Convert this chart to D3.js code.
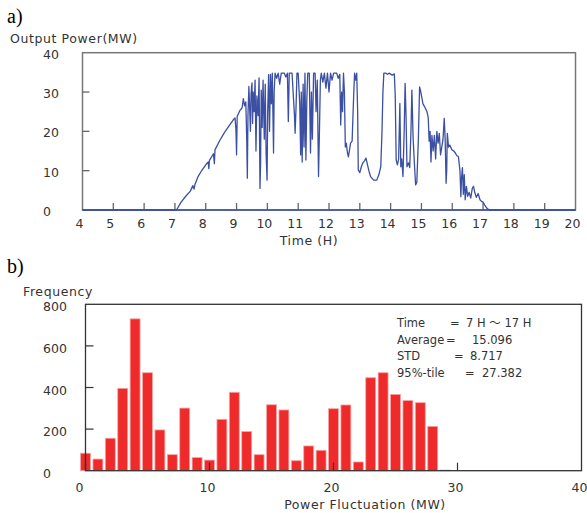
<!DOCTYPE html>
<html>
<head>
<meta charset="utf-8">
<script src="https://cdn.jsdelivr.net/npm/d3@7/dist/d3.min.js"></script>
<style>
  body { margin: 0; background: #fff; }
  text { font-family: "DejaVu Sans", sans-serif; fill: #333; }
  .panel-tag { font-family: "Liberation Serif", serif; font-size: 20px; fill: #000; }
  .title { letter-spacing: 0.6px; }
</style>
</head>
<body>
<div id="chart"></div>
<script>
// panel a) output power over the day (hour, MW)
var power_hours = [4, 7.05, 7.2, 7.35, 7.5, 7.58, 7.62, 7.65, 7.75, 7.85, 8.0, 8.08, 8.1, 8.12, 8.25, 8.28, 8.3, 8.45, 8.6, 8.75, 8.9, 8.95, 8.98, 9.0, 9.02, 9.1, 9.18, 9.22, 9.26, 9.3, 9.33, 9.35, 9.37, 9.4, 9.42, 9.45, 9.47, 9.5, 9.52, 9.54, 9.57, 9.6, 9.63, 9.66, 9.7, 9.73, 9.76, 9.78, 9.8, 9.83, 9.86, 9.9, 9.93, 9.96, 9.99, 10.01, 10.04, 10.07, 10.1, 10.13, 10.16, 10.2, 10.22, 10.25, 10.3, 10.35, 10.4, 10.45, 10.55, 10.6, 10.65, 10.68, 10.71, 10.8, 10.85, 10.88, 10.9, 10.93, 10.96, 11.0, 11.05, 11.08, 11.1, 11.13, 11.16, 11.19, 11.22, 11.25, 11.28, 11.31, 11.36, 11.4, 11.43, 11.46, 11.5, 11.55, 11.58, 11.62, 11.66, 11.69, 11.72, 11.75, 11.8, 11.85, 11.9, 11.95, 12.0, 12.05, 12.1, 12.15, 12.25, 12.3, 12.35, 12.38, 12.41, 12.44, 12.47, 12.5, 12.53, 12.56, 12.6, 12.63, 12.66, 12.7, 12.75, 12.8, 12.83, 12.87, 12.9, 12.93, 12.95, 13.0, 13.05, 13.1, 13.15, 13.2, 13.25, 13.3, 13.35, 13.45, 13.55, 13.62, 13.68, 13.72, 13.75, 13.78, 13.85, 13.9, 13.95, 14.05, 14.12, 14.15, 14.18, 14.22, 14.26, 14.3, 14.33, 14.36, 14.4, 14.44, 14.47, 14.5, 14.53, 14.58, 14.62, 14.66, 14.69, 14.73, 14.77, 14.81, 14.85, 14.9, 14.94, 14.98, 15.05, 15.1, 15.18, 15.22, 15.25, 15.28, 15.31, 15.34, 15.38, 15.42, 15.46, 15.5, 15.54, 15.58, 15.62, 15.66, 15.7, 15.74, 15.77, 15.8, 15.82, 15.84, 15.88, 15.92, 15.99, 16.05, 16.1, 16.15, 16.2, 16.25, 16.28, 16.3, 16.33, 16.36, 16.39, 16.42, 16.46, 16.5, 16.55, 16.6, 16.65, 16.69, 16.73, 16.78, 16.84, 16.9, 16.95, 17.0, 17.05, 17.12, 17.2, 20];
var power_mw = [0, 0, 2, 3.5, 4.8, 6.2, 5.3, 6.5, 8.5, 9.8, 11.5, 12.2, 10.5, 12.6, 14.3, 11.8, 15.3, 17.6, 19.6, 21.3, 23, 23.4, 20.5, 14, 23.8, 25.2, 26, 28.3, 26.5, 27.5, 18, 8.1, 24, 31.4, 27, 20, 29.5, 32.3, 22, 30, 25, 33, 15, 29, 24, 33.6, 5.5, 12, 30.5, 21, 33, 18, 32, 14, 7.6, 25, 34.4, 20, 34.5, 27, 34.8, 14.5, 30, 34.8, 33.5, 34.8, 32, 34.8, 34.8, 33.8, 34.8, 22.5, 34.8, 34.8, 28, 24, 19.5, 26, 34.8, 34.8, 27, 14, 30, 12.2, 32, 16, 34.8, 12.7, 28, 34.8, 34.8, 14.5, 30, 18, 34.8, 34.8, 25, 33, 8.5, 20, 33, 34.8, 32.5, 34.8, 31, 34.8, 30, 34.8, 33, 34.8, 34.8, 33.5, 34.5, 21.6, 30, 25, 34.8, 30, 16, 17, 14.5, 13.5, 15, 17, 17.5, 29, 34.8, 33, 34.8, 25, 10.2, 9.5, 11, 12, 12.5, 13.2, 11.5, 9.8, 8.5, 7.6, 7.6, 9, 11, 20, 30, 34.8, 34.8, 34.5, 34.8, 34.3, 34.6, 29, 12.7, 11.5, 13, 27.1, 11, 13, 8.5, 20, 32.2, 24, 11, 12, 10.8, 20, 30.5, 18.3, 12, 6.4, 7, 18, 31.3, 30, 27, 26.3, 25, 23.5, 17.5, 20, 12.2, 19, 15, 19, 13, 20, 17, 19.5, 14, 16, 18, 23.3, 18, 6.8, 10, 19.5, 16, 16.5, 15.3, 15, 14.5, 13.8, 13.6, 10, 3.4, 8, 10.8, 4, 9, 2.6, 6, 3.5, 4.5, 3, 5.5, 6, 4.5, 3.2, 4.2, 2.6, 2.2, 2, 1.3, 0.5, 0, 0];

var hour_ticks = d3.range(4, 21);
var power_ticks = [0, 10, 20, 30, 40];

// panel b) histogram of power fluctuation, 1 MW bins centred on 0..29
var fluct_bins = d3.range(0, 30);
var fluct_counts = [84, 56, 156, 396, 730, 471, 196, 77, 301, 63, 51, 247, 377, 188, 77, 317, 292, 48, 119, 98, 298, 316, 42, 447, 471, 367, 337, 327, 213, 3];
var fluct_ticks = [0, 10, 20, 30, 40];
var count_ticks = [0, 200, 400, 600, 800];

var stats_labels = ["Time", "Average", "STD", "95%-tile"];
var stats_values = ["7 H \uff5e 17 H", "15.096", "8.717", "27.382"];

var width = 587, height = 513;

var svg = d3.select("#chart").append("svg")
    .attr("width", width)
    .attr("height", height);

// ---------- panel a ----------
var xa = d3.scaleLinear().domain([4, 20]).range([82.5, 575.5]);
var ya = d3.scaleLinear().domain([0, 40]).range([210, 52.7]);

svg.append("text").attr("class", "panel-tag").attr("x", 7).attr("y", 23).text("a)");
svg.append("text").attr("class", "title").attr("x", 10).attr("y", 43).style("font-size", "12.5px").text("Output Power(MW)");

svg.append("rect")
    .attr("x", xa(4)).attr("y", ya(40))
    .attr("width", xa(20) - xa(4)).attr("height", ya(0) - ya(40))
    .attr("fill", "none").attr("stroke", "#777").attr("stroke-width", 1.5);

var ga = svg.append("g");
ga.selectAll(".ytick").data(power_ticks.slice(1, 4)).enter().append("line")
    .attr("x1", xa(4)).attr("x2", xa(4) + 7)
    .attr("y1", function(d) { return ya(d); }).attr("y2", function(d) { return ya(d); })
    .attr("stroke", "#666").attr("stroke-width", 1.3);
ga.selectAll(".xtick").data(hour_ticks.slice(1, -1)).enter().append("line")
    .attr("x1", function(d) { return xa(d); }).attr("x2", function(d) { return xa(d); })
    .attr("y1", ya(0)).attr("y2", ya(0) - 7)
    .attr("stroke", "#666").attr("stroke-width", 1.3);

ga.selectAll(".ylab").data(power_ticks).enter().append("text")
    .attr("x", 43).attr("y", function(d) { return ya(d) + 6; })
    .style("font-size", "12.5px")
    .text(function(d) { return d; });
ga.selectAll(".xlab").data(hour_ticks).enter().append("text")
    .attr("x", function(d) { return xa(d) - 3; }).attr("y", 228)
    .attr("text-anchor", "middle")
    .style("font-size", "12.5px")
    .text(function(d) { return d; });
svg.append("text").attr("class", "title").attr("x", 309).attr("y", 245).attr("text-anchor", "middle")
    .style("font-size", "12.5px").text("Time (H)");

var power_points = power_hours.map(function(h, i) { return [h, power_mw[i]]; });
var line = d3.line()
    .x(function(d) { return xa(d[0]); })
    .y(function(d) { return ya(d[1]); });
svg.append("path")
    .datum(power_points)
    .attr("d", line)
    .attr("fill", "none")
    .attr("stroke", "#3b4fa3")
    .attr("stroke-width", 1.3)
    .attr("stroke-linejoin", "round");

svg.append("line")
    .attr("x1", xa(4)).attr("x2", xa(20)).attr("y1", ya(0)).attr("y2", ya(0))
    .attr("stroke", "#3b4fa3").attr("stroke-width", 1.3);

// ---------- panel b ----------
var xb = d3.scaleLinear().domain([0, 40]).range([85.5, 581.5]);
var yb = d3.scaleLinear().domain([0, 800]).range([470.7, 304.3]);

svg.append("text").attr("class", "panel-tag").attr("x", 7).attr("y", 273).text("b)");
svg.append("text").attr("class", "title").attr("x", 23).attr("y", 296).style("font-size", "12.5px").text("Frequency");

svg.append("g").selectAll("rect").data(fluct_bins).enter().append("rect")
    .attr("x", function(d) { return xb(d - 0.4); })
    .attr("width", xb(0.8) - xb(0))
    .attr("y", function(d, i) { return yb(fluct_counts[i]); })
    .attr("height", function(d, i) { return yb(0) - yb(fluct_counts[i]); })
    .attr("fill", "#ee2a2a")
    .attr("stroke", "#f6a3a3")
    .attr("stroke-width", 0.8);

svg.append("rect")
    .attr("x", xb(0)).attr("y", yb(800))
    .attr("width", xb(40) - xb(0)).attr("height", yb(0) - yb(800))
    .attr("fill", "none").attr("stroke", "#333").attr("stroke-width", 1.3);

var gb = svg.append("g");
gb.selectAll(".ytick").data(count_ticks.slice(1, 4)).enter().append("line")
    .attr("x1", xb(0)).attr("x2", xb(0) + 8)
    .attr("y1", function(d) { return yb(d); }).attr("y2", function(d) { return yb(d); })
    .attr("stroke", "#333").attr("stroke-width", 1.2);
gb.selectAll(".xtick").data(fluct_ticks.slice(0, 4)).enter().append("line")
    .attr("x1", function(d) { return xb(d); }).attr("x2", function(d) { return xb(d); })
    .attr("y1", yb(0)).attr("y2", yb(0) - 8)
    .attr("stroke", "#333").attr("stroke-width", 1.2);

gb.selectAll(".ylab").data(count_ticks).enter().append("text")
    .attr("x", 43).attr("y", function(d) { return yb(d) + 7; })
    .style("font-size", "12.5px")
    .text(function(d) { return d; });
gb.selectAll(".xlab").data(fluct_ticks).enter().append("text")
    .attr("x", function(d) { return d === 0 ? xb(d) - 6 : xb(d) - 2; }).attr("y", 492)
    .attr("text-anchor", "middle")
    .style("font-size", "12.5px")
    .text(function(d) { return d; });
svg.append("text").attr("class", "title").attr("x", 365).attr("y", 509).attr("text-anchor", "middle")
    .style("font-size", "12.5px").text("Power Fluctuation (MW)");

// stats box text
var label_x = 397, eq_x = [450, 446, 454, 465], val_x = [466, 472, 470, 482];
var stats = svg.append("g").style("font-size", "11.5px");
stats_labels.forEach(function(lab, i) {
    var y = 327 + i * 16.7;
    stats.append("text").attr("x", label_x).attr("y", y).text(lab);
    stats.append("text").attr("x", eq_x[i]).attr("y", y).text("=");
    var v = stats.append("text").attr("x", val_x[i]).attr("y", y);
    stats_values[i].split(/(\uff5e)/).forEach(function(part) {
        var t = v.append("tspan").text(part);
        if (part === "\uff5e") t.style("font-family", "'Noto Sans CJK JP'");
    });
});
</script>
</body>
</html>
